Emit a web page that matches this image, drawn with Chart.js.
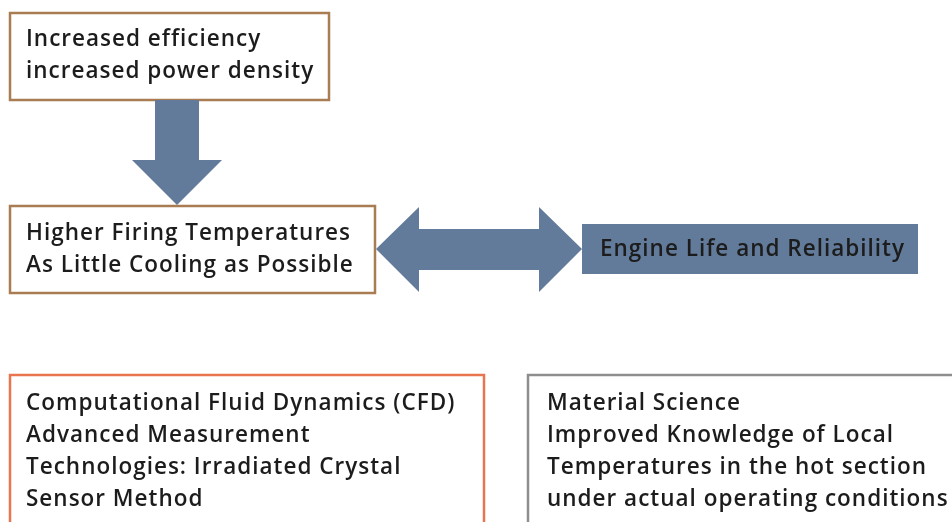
<!DOCTYPE html>
<html>
<head>
<meta charset="utf-8">
<script src="https://cdn.jsdelivr.net/npm/chart.js@4"></script>
<style>
  html, body { margin: 0; padding: 0; background: #ffffff; }
  #wrap { width: 952px; height: 522px; }
</style>
</head>
<body>
<div id="wrap"><canvas id="diagram" width="952" height="522"></canvas></div>
<script>
// Box texts
const topBoxLines    = ['Increased efficiency', 'increased power density'];
const middleBoxLines = ['Higher Firing Temperatures', 'As Little Cooling as Possible'];
const engineLines    = ['Engine Life and Reliability'];
const cfdLines       = ['Computational Fluid Dynamics (CFD)', 'Advanced Measurement',
                        'Technologies: Irradiated Crystal', 'Sensor Method'];
const materialLines  = ['Material Science', 'Improved Knowledge of Local',
                        'Temperatures in the hot section', 'under actual operating conditions'];

// Shape outlines in diagram units (x right, y down)
const downArrowX   = [155, 199, 199, 222, 177, 132, 155];
const downArrowY   = [100, 100, 160, 160, 205, 160, 160];
const doubleArrowX = [376, 419, 419, 539, 539, 582, 539, 539, 419, 419];
const doubleArrowY = [249, 207, 229, 229, 207, 249, 292, 270, 270, 292];

// Boxes: [x0, y0, x1, y1]
const boxes = [
  { rect: [10, 13, 329, 100],  stroke: '#a97c52', fill: null,      lines: topBoxLines,    tx: 26,  ty: 40,  lh: 32 },
  { rect: [10, 206, 375, 293], stroke: '#a97c52', fill: null,      lines: middleBoxLines, tx: 26,  ty: 234, lh: 32 },
  { rect: [582, 224, 918, 274], stroke: null,     fill: '#627b9b', lines: engineLines,    tx: 600, ty: 250, lh: 32 },
  { rect: [10, 375, 484, 540], stroke: '#e9754f', fill: null,      lines: cfdLines,       tx: 26,  ty: 404, lh: 32 },
  { rect: [528, 375, 970, 540], stroke: '#8e8e8e', fill: null,     lines: materialLines,  tx: 547, ty: 404, lh: 32 }
];

const arrowColor = '#627b9b';
const textColor  = '#1c1c1c';
const fontSpec   = '600 22.5px "Open Sans", sans-serif';

const diagramPlugin = {
  id: 'diagram',
  afterDraw(chart) {
    const c  = chart.ctx;
    const sx = v => chart.scales.x.getPixelForValue(v);
    const sy = v => chart.scales.y.getPixelForValue(v);

    c.save();

    // boxes
    boxes.forEach(b => {
      const [x0, y0, x1, y1] = b.rect;
      const px = sx(x0), py = sy(y0);
      const w = sx(x1) - px, h = sy(y1) - py;
      if (b.fill) {
        c.fillStyle = b.fill;
        c.fillRect(px, py, w, h);
      }
      if (b.stroke) {
        c.strokeStyle = b.stroke;
        c.lineWidth = 2.5;
        c.strokeRect(px, py, w, h);
      }
    });

    // arrows
    function polygon(xs, ys) {
      c.beginPath();
      xs.forEach((x, i) => {
        if (i === 0) c.moveTo(sx(x), sy(ys[i]));
        else c.lineTo(sx(x), sy(ys[i]));
      });
      c.closePath();
      c.fillStyle = arrowColor;
      c.fill();
    }
    polygon(downArrowX, downArrowY);
    polygon(doubleArrowX, doubleArrowY);

    // texts
    c.font = fontSpec;
    if ('letterSpacing' in c) c.letterSpacing = '1px';
    c.fillStyle = textColor;
    c.textAlign = 'left';
    c.textBaseline = 'middle';
    boxes.forEach(b => {
      b.lines.forEach((line, i) => {
        c.fillText(line, sx(b.tx), sy(b.ty + i * b.lh));
      });
    });

    c.restore();
  }
};

new Chart(document.getElementById('diagram').getContext('2d'), {
  type: 'scatter',
  data: { datasets: [{ data: [] }] },
  options: {
    responsive: false,
    animation: false,
    layout: { padding: 0 },
    plugins: { legend: { display: false }, tooltip: { enabled: false } },
    scales: {
      x: { type: 'linear', min: 0, max: 952, display: false },
      y: { type: 'linear', min: 0, max: 522, reverse: true, display: false }
    }
  },
  plugins: [diagramPlugin]
});
</script>
</body>
</html>
